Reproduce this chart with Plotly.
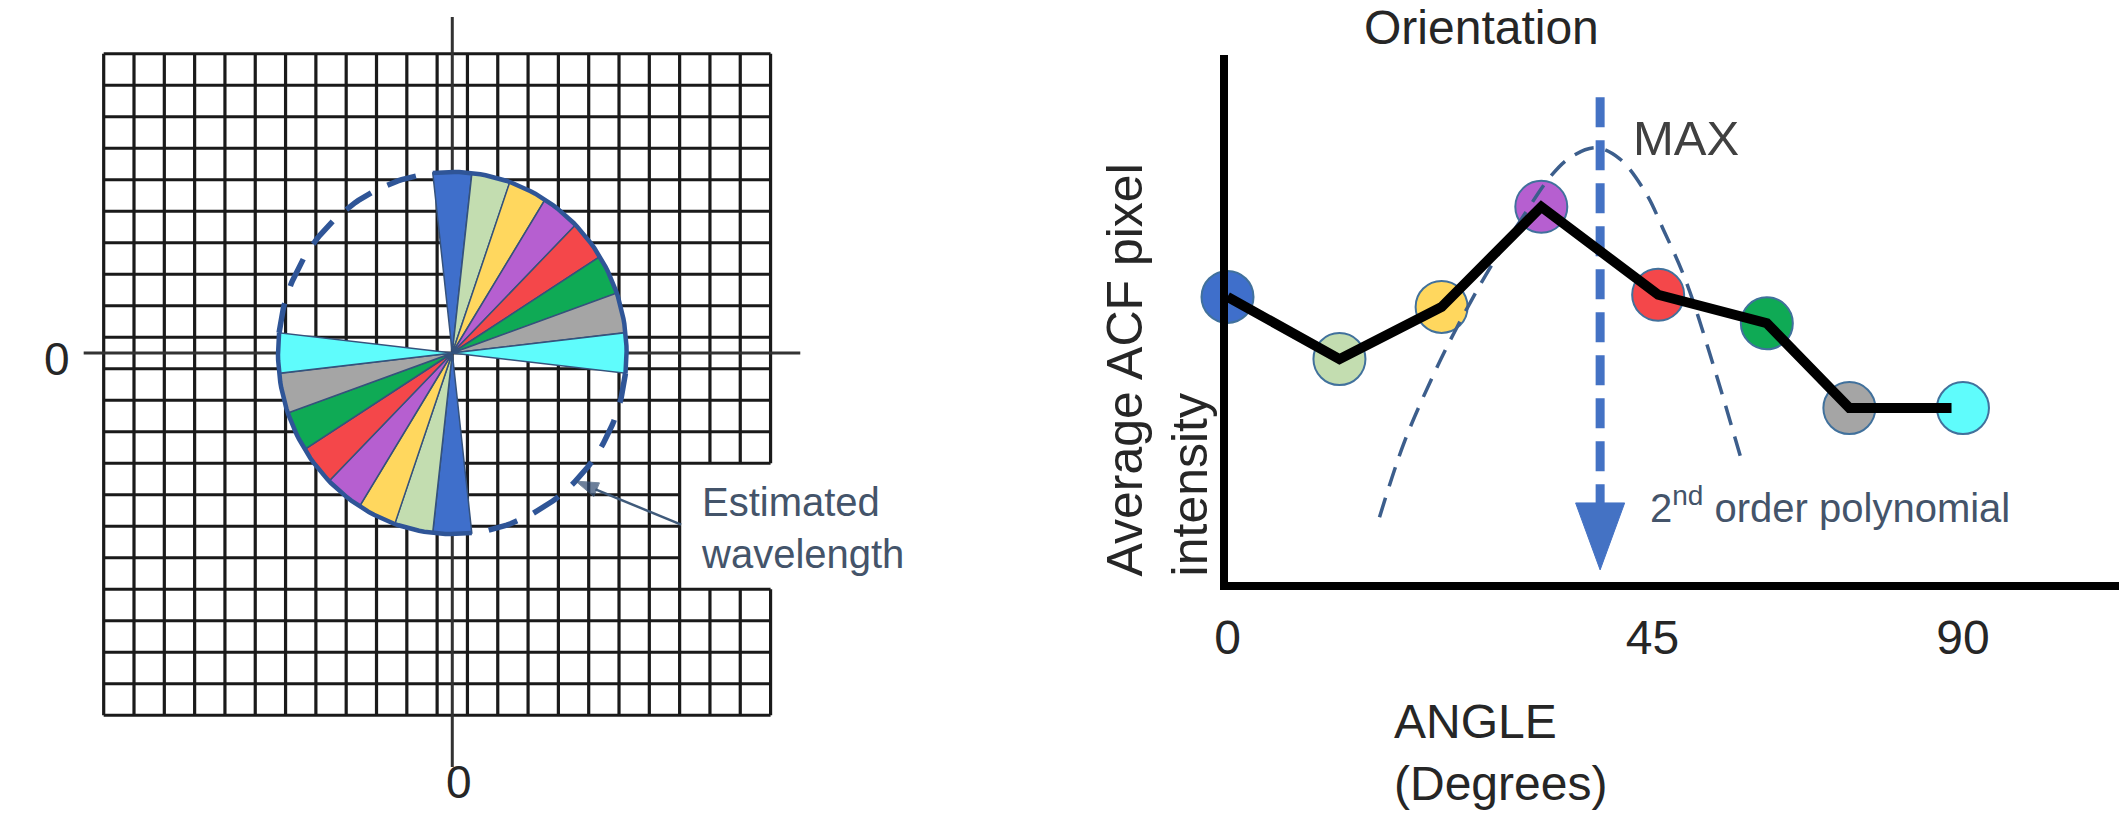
import numpy as np
import plotly.graph_objects as go

W, H = 2119, 815

# ---------------- data: left panel (ACF image with orientation wedges) ----------------
grid_u_extent = (-11.5, 10.5)      # outer grid edges, in cell units from the ACF centre
grid_v_extent = (-11.5, 9.5)
label_box_u = (7.5, 10.5)          # grid cells left blank behind the "Estimated wavelength" label
label_box_v = (-7.5, -3.5)
wedge_angle_deg = [0, 12.9, 25.7, 38.6, 51.4, 64.3, 77.1, 90]   # clockwise from vertical
wedge_colors = ["#3F6FCB", "#C3DDB0", "#FFD75E", "#B65FD0",
                "#F4474A", "#0FAA55", "#A5A5A5", "#5FFCFC"]
wavelength_radius = 5.75           # cells
wedge_half_width = 6.43            # degrees
pointer_angle_deg = 135            # where the "Estimated wavelength" pointer meets the circle

# ---------------- data: right panel (orientation profile) ----------------
sample_angle_deg = [0, 13.7, 26.2, 38.4, 52.7, 66.0, 76.1, 90]
mean_acf_intensity = [0.541, 0.423, 0.522, 0.712, 0.545, 0.491, 0.330, 0.330]
poly_angle_deg = [18.6, 21.6, 24.9, 28.1, 32.2, 35.9, 39.5, 42.0, 45.1, 48.0,
                  51.2, 53.3, 56.1, 59.4, 63.0]
poly_intensity = [0.123, 0.264, 0.383, 0.484, 0.598, 0.687, 0.769, 0.806, 0.824,
                  0.803, 0.738, 0.670, 0.571, 0.414, 0.226]
max_angle_deg = 45.6
x_tick_vals = [0, 52, 90]
x_tick_text = ["0", "45", "90"]

# ---------------- styling / layout constants ----------------
FONT = "Liberation Sans, Arial, sans-serif"
GRID_COLOR = "#1A1A1A"
CIRCLE_COLOR = "#2F5597"
SLATE = "#44546A"
DARK = "#262626"
CELL_W, CELL_H = 30.5, 31.5        # px per cell
CX, CY = 442, 353                  # px position of ACF centre
POINTER_TAIL = (7.55, -5.45)       # cell units, left edge of the label

def px(x):
    return x / W

def py(y):
    return 1 - y / H

fig = go.Figure()

# ---- grid lines (left) ----
gx, gy = [], []
u_lines = np.arange(grid_u_extent[0], grid_u_extent[1] + 0.01, 1.0)
v_lines = np.arange(grid_v_extent[0], grid_v_extent[1] + 0.01, 1.0)
for u in u_lines:
    if label_box_u[0] < u <= label_box_u[1]:
        gx += [u, u, None, u, u, None]
        gy += [grid_v_extent[0], label_box_v[0], None, label_box_v[1], grid_v_extent[1], None]
    else:
        gx += [u, u, None]
        gy += [grid_v_extent[0], grid_v_extent[1], None]
for v in v_lines:
    if label_box_v[0] < v < label_box_v[1]:
        gx += [grid_u_extent[0], label_box_u[0], None]
    else:
        gx += [grid_u_extent[0], grid_u_extent[1], None]
    gy += [v, v, None]
fig.add_trace(go.Scatter(x=gx, y=gy, mode="lines", line=dict(color=GRID_COLOR, width=3.2),
                         hoverinfo="skip", showlegend=False, xaxis="x", yaxis="y"))

# ---- crosshair axes (left) ----
fig.add_trace(go.Scatter(x=[0, 0, None, -12.16, 11.48], y=[10.67, -13.14, None, 0, 0],
                         mode="lines", line=dict(color="#333333", width=3),
                         hoverinfo="skip", showlegend=False, xaxis="x", yaxis="y"))

def arc(a0, a1, n=60):
    t = np.radians(np.linspace(a0, a1, n))
    return list(wavelength_radius * np.sin(t)), list(wavelength_radius * np.cos(t))

# ---- wedges (both halves, point-symmetric) ----
for ang, col in zip(wedge_angle_deg, wedge_colors):
    for off in (0, 180):
        ax_, ay_ = arc(ang + off - wedge_half_width, ang + off + wedge_half_width, 12)
        fig.add_trace(go.Scatter(x=[0] + ax_ + [0], y=[0] + ay_ + [0], mode="lines",
                                 fill="toself", fillcolor=col,
                                 line=dict(color="#35527C", width=1.5),
                                 hoverinfo="skip", showlegend=False, xaxis="x", yaxis="y"))

lo = wedge_angle_deg[0] - wedge_half_width
hi = wedge_angle_deg[-1] + wedge_half_width
# solid rim over the wedges
for off in (0, 180):
    ax_, ay_ = arc(lo + off, hi + off)
    fig.add_trace(go.Scatter(x=ax_, y=ay_, mode="lines", line=dict(color=CIRCLE_COLOR, width=4.5),
                             hoverinfo="skip", showlegend=False, xaxis="x", yaxis="y"))
# dashed rim elsewhere
for off in (0, 180):
    ax_, ay_ = arc(hi + off, lo + 180 + off)
    fig.add_trace(go.Scatter(x=ax_, y=ay_, mode="lines",
                             line=dict(color=CIRCLE_COLOR, width=5.5, dash="30px,18px"),
                             hoverinfo="skip", showlegend=False, xaxis="x", yaxis="y"))

# ---- pointer from label to the circle ----
tip_u = wavelength_radius * np.sin(np.radians(pointer_angle_deg))
tip_v = wavelength_radius * np.cos(np.radians(pointer_angle_deg))
fig.add_trace(go.Scatter(x=[POINTER_TAIL[0], tip_u], y=[POINTER_TAIL[1], tip_v],
                         mode="lines+markers",
                         line=dict(color="#3F5A7A", width=2.5),
                         marker=dict(symbol=["circle", "arrow"], size=[0, 24],
                                     angleref="previous", color="#2F4A70"),
                         cliponaxis=False, hoverinfo="skip", showlegend=False,
                         xaxis="x", yaxis="y"))

# ---------------- right panel ----------------
fig.add_trace(go.Scatter(x=sample_angle_deg, y=mean_acf_intensity, mode="markers",
                         marker=dict(size=52, color=wedge_colors,
                                     line=dict(color="#41719C", width=2)),
                         cliponaxis=False, hoverinfo="skip", showlegend=False,
                         xaxis="x2", yaxis="y2"))
fig.add_trace(go.Scatter(x=poly_angle_deg, y=poly_intensity, mode="lines",
                         line=dict(color="#3C5E8C", width=3.5, dash="20px,12px", shape="spline"),
                         hoverinfo="skip", showlegend=False, xaxis="x2", yaxis="y2"))
fig.add_trace(go.Scatter(x=[max_angle_deg, max_angle_deg], y=[0.92, 0.15], mode="lines",
                         line=dict(color="#4472C4", width=9, dash="30px,13px"),
                         hoverinfo="skip", showlegend=False, xaxis="x2", yaxis="y2"))
hw = 3.0
fig.add_trace(go.Scatter(x=[max_angle_deg - hw, max_angle_deg + hw, max_angle_deg, max_angle_deg - hw],
                         y=[0.15, 0.15, 0.023, 0.15], mode="lines", fill="toself",
                         fillcolor="#4472C4", line=dict(color="#4472C4", width=1),
                         hoverinfo="skip", showlegend=False, xaxis="x2", yaxis="y2"))
fig.add_trace(go.Scatter(x=sample_angle_deg[:-1] + [sample_angle_deg[-1] - 1.4],
                         y=mean_acf_intensity, mode="lines",
                         line=dict(color="black", width=10),
                         hoverinfo="skip", showlegend=False, xaxis="x2", yaxis="y2"))

scale = (1962 - 1222) / 90.0

def note(text, x, y, size, color=DARK, xa="center", ya="middle", **kw):
    return dict(text=text, x=px(x), y=py(y), xref="paper", yref="paper", showarrow=False,
                xanchor=xa, yanchor=ya, font=dict(size=size, color=color, family=FONT), **kw)

fig.update_layout(
    width=W, height=H,
    margin=dict(l=0, r=0, t=0, b=0),
    paper_bgcolor="white", plot_bgcolor="rgba(0,0,0,0)",
    showlegend=False,
    font=dict(family=FONT, color=DARK),
    xaxis=dict(domain=[0, 0.5], range=[(0 - CX) / CELL_W, (W * 0.5 - CX) / CELL_W],
               visible=False, fixedrange=True),
    yaxis=dict(domain=[0, 1], range=[(CY - H) / CELL_H, CY / CELL_H],
               visible=False, fixedrange=True),
    xaxis2=dict(domain=[px(1222), 1.0], range=[0, (W - 1222) / scale], anchor="y2",
                showgrid=False, zeroline=False, showline=True, linecolor="black", linewidth=8,
                tickmode="array", tickvals=x_tick_vals, ticktext=x_tick_text, ticks="",
                ticklabelstandoff=6, tickfont=dict(size=48, color=DARK, family=FONT)),
    yaxis2=dict(domain=[py(582), py(55)], range=[0, 1], anchor="x2",
                showgrid=False, zeroline=False, showline=True, linecolor="black", linewidth=8,
                showticklabels=False, ticks=""),
    annotations=[
        note("0", 44, 359, 46),
        note("0", 449, 782, 46),
        note("Estimated<br>wavelength", 690, 528, 40, color=SLATE, xa="left", align="left"),
        note("Orientation", 1357, 27, 48, xa="left"),
        note("MAX", 1628, 138, 49, color="#404040", xa="left"),
        note("2<sup>nd</sup> order polynomial", 1645, 505, 40, color=SLATE, xa="left"),
        note("Average ACF pixel<br>intensity", 1152, 578, 50, ya="bottom",
             textangle=-90, align="left"),
        note("ANGLE<br>(Degrees)", 1388, 752, 48, xa="left", align="left"),
    ],
)

fig.write_html("out.html", config={"displayModeBar": False},
               post_script="document.body.style.margin='0px';"
               "document.body.style.overflow='hidden';")
